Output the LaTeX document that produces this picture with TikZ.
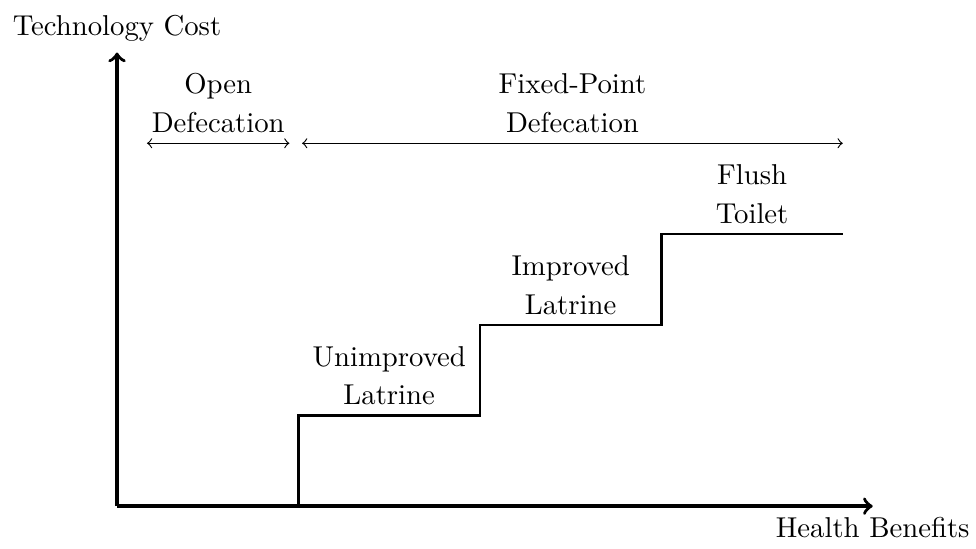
\documentclass[tikz,border=0pt]{standalone}
\usepackage{tikz}
\usetikzlibrary{positioning}

\begin{document}
\begin{tikzpicture}[x=1.11cm, y=1.11cm,
axis/.style={very thick, ->},
span/.style={<->},
lbl/.style={align=center, font=\linespread{1.13}\selectfont}]

\useasboundingbox (-1.432cm,-0.514cm) rectangle (10.51cm,6.193cm);

% axes
\coordinate (o) at (0,0);
\coordinate (xmax) at (8.33,0);
\coordinate (ymax) at (0,5);
\draw[axis] (o) -- (xmax) node[below] (xlab) {Health Benefits};
\draw[axis] (o) -- (ymax) node[above] (ylab) {Technology Cost};

% staircase
\foreach \i in {0,1,2,3}{ \coordinate (s\i) at ({2+2*\i},\i); }
\draw[thick] (s0) |- (s1) |- (s2) |- (s3);

\node[lbl, above] (unimp) at (3,1) {Unimproved\\Latrine};
\node[lbl, above] (imp) at (5,2) {Improved\\Latrine};
\node[lbl, above] (flush) at (7,3) {Flush\\Toilet};

% ranges
\coordinate (od-l) at (0.33,4);
\coordinate (od-r) at (1.9,4);
\coordinate (fp-l) at (2.04,4);
\coordinate (fp-r) at (8,4);
\draw[span] (od-l) -- (od-r) node[midway, above, lbl] (odlab) {Open\\Defecation};
\draw[span] (fp-l) -- (fp-r) node[midway, above, lbl] (fplab) {Fixed-Point\\Defecation};

\end{tikzpicture}
\end{document}
